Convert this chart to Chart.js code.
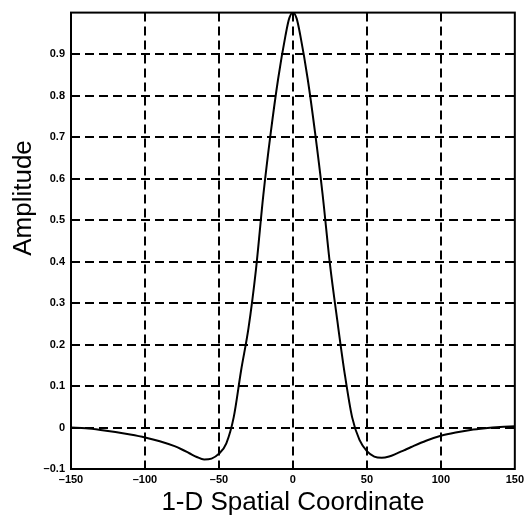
<!DOCTYPE html>
<html>
<head>
<meta charset="utf-8">
<script src="https://cdn.jsdelivr.net/npm/chart.js@4/dist/chart.umd.min.js"></script>
<style>
    html, body { margin: 0; padding: 0; background: #fff; }
    #wrap { width: 528px; height: 525px; position: relative; }
</style>
</head>
<body>
<div id="wrap"><canvas id="profileChart"></canvas></div>
<script>
// Values
const positions = [-150, -140, -130, -120, -110, -100, -90, -80, -75, -70, -65, -60, -55, -50, -45, -40,
    -35, -30, -25, -20, -15, -10, -5, -2.5, 0, 2.5, 5, 10, 15, 20, 25, 30, 35, 40,
    45, 50, 55, 60, 65, 70, 75, 80, 90, 100, 110, 120, 130, 140, 150];
const amplitudes = [0.000, -0.002, -0.006, -0.011, -0.017, -0.024, -0.033, -0.045, -0.053, -0.062, -0.071, -0.077, -0.075, -0.063, -0.038, 0.025,
    0.138, 0.240, 0.380, 0.560, 0.710, 0.840, 0.945, 0.986, 1.000, 0.986, 0.945, 0.840, 0.710, 0.564, 0.395, 0.258, 0.130, 0.025,
    -0.030, -0.057, -0.070, -0.073, -0.070, -0.063, -0.055, -0.047, -0.032, -0.020, -0.012, -0.006, -0.002, 0.001, 0.003];
const xTicks = [-150, -100, -50, 0, 50, 100, 150];
const yTicks = [-0.1, 0, 0.1, 0.2, 0.3, 0.4, 0.5, 0.6, 0.7, 0.8, 0.9];
const xTitle = '1-D Spatial Coordinate';
const yTitle = 'Amplitude';

const tickFont = { family: "'Liberation Sans', Arial, sans-serif", size: 11, weight: 'bold' };
const titleFont = { family: "'Liberation Sans', Arial, sans-serif", size: 26 };

function fmt(v) {
    const s = String(Math.round(v * 10) / 10);
    return s.replace('-', '\u2013');
}

// frame around the plot area + y title (sits above centre in the original)
const frame = {
    id: 'frame',
    afterDraw(chart) {
        const a = chart.chartArea;
        const ctx = chart.ctx;
        ctx.save();
        ctx.strokeStyle = '#000';
        ctx.lineWidth = 2;
        ctx.strokeRect(a.left, a.top, a.right - a.left, a.bottom - a.top);
        ctx.translate(24, 198);
        ctx.rotate(-Math.PI / 2);
        ctx.fillStyle = '#000';
        ctx.font = titleFont.size + 'px ' + titleFont.family;
        ctx.textAlign = 'center';
        ctx.textBaseline = 'middle';
        ctx.fillText(yTitle, 0, 0);
        ctx.restore();
    }
};

new Chart(document.getElementById('profileChart'), {
    type: 'scatter',
    data: {
        datasets: [{
            data: positions.map((x, i) => ({ x: x, y: amplitudes[i] })),
            showLine: true,
            borderColor: '#000',
            borderWidth: 2,
            pointRadius: 0,
            cubicInterpolationMode: 'monotone',
            fill: false
        }]
    },
    options: {
        responsive: true,
        maintainAspectRatio: false,
        animation: false,
        layout: { padding: { left: 0, top: 8, right: 0, bottom: 0 } },
        plugins: { legend: { display: false }, tooltip: { enabled: false } },
        scales: {
            x: {
                type: 'linear',
                min: -150,
                max: 150,
                afterBuildTicks: s => { s.ticks = xTicks.map(v => ({ value: v })); },
                afterFit: s => { s.height = 56; },
                ticks: { color: '#000', font: tickFont, padding: 4, maxRotation: 0, callback: v => fmt(v) },
                grid: {
                    drawTicks: false,
                    lineWidth: 2,
                    color: c => (c.tick && Math.abs(c.tick.value) === 150) ? 'rgba(0,0,0,0)' : '#000'
                },
                border: { display: false, dash: [9, 5] },
                title: { display: true, text: xTitle, color: '#000', font: titleFont, padding: { top: 0, bottom: 7 } }
            },
            y: {
                min: -0.1,
                max: 1,
                afterBuildTicks: s => { s.ticks = yTicks.map(v => ({ value: v })); },
                afterFit: s => { s.width = 71; },
                ticks: { color: '#000', font: tickFont, padding: 6, callback: v => fmt(v) },
                grid: {
                    drawTicks: false,
                    lineWidth: 2,
                    color: c => (c.tick && Math.abs(c.tick.value + 0.1) < 1e-6) ? 'rgba(0,0,0,0)' : '#000'
                },
                border: { display: false, dash: [9, 5] },
                title: { display: false }
            }
        }
    },
    plugins: [frame]
});
</script>
</body>
</html>
